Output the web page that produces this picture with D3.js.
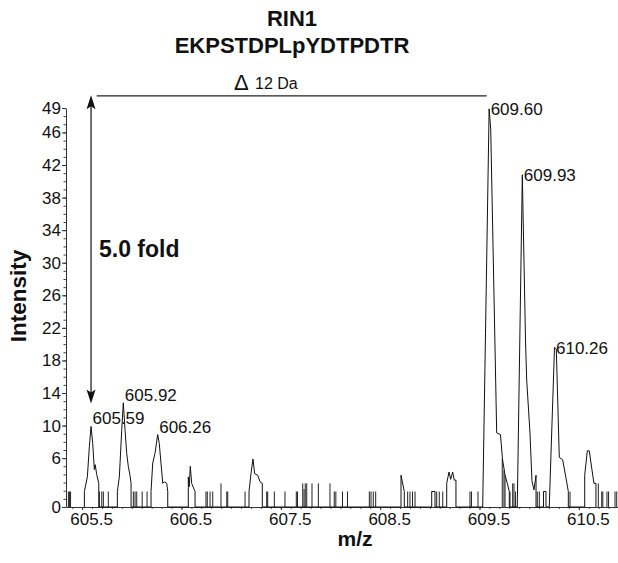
<!DOCTYPE html>
<html><head><meta charset="utf-8">
<script src="https://cdn.jsdelivr.net/npm/d3@7"></script>
<style>
body{margin:0;background:#fff}
svg{display:block}
text{font-family:"Liberation Sans",Arial,Helvetica,sans-serif;fill:#111}
</style>
</head><body>
<svg id="chart" width="618" height="563"></svg>
<script>
// ---------- data ----------
const titleLines = ["RIN1", "EKPSTDPLpYDTPDTR"];
const xLabel = "m/z";
const yLabel = "Intensity";
const xTickValues = [605.5, 606.5, 607.5, 608.5, 609.5, 610.5];
const yTickValues = [0, 6, 10, 14, 18, 22, 26, 30, 34, 38, 42, 46, 49];

// profile spectrum (m/z, intensity)
const spectrumMz = [
  605.523,605.523,605.553,605.573,605.590,605.607,605.623,605.632,605.647,605.668,605.668,
  605.855,605.855,605.875,605.899,605.915,605.932,605.949,605.965,605.982,605.993,605.993,
  606.194,606.194,606.211,606.234,606.261,606.277,606.294,606.312,606.328,606.352,606.362,606.362,
  606.569,606.569,606.579,606.589,606.603,606.637,606.637,
  607.180,607.180,607.200,607.220,607.237,607.268,607.291,607.314,607.314,
  608.710,608.710,608.743,608.743,
  609.019,609.019,609.052,609.052,
  609.170,609.170,609.193,609.210,609.230,609.246,609.263,609.263,
  609.532,609.597,609.613,609.673,609.711,609.731,609.757,609.780,609.800,609.800,
  609.880,609.931,609.963,609.975,610.008,610.028,610.048,610.069,610.069,
  610.144,610.144,610.169,610.169,
  610.202,610.255,610.273,610.303,610.337,610.370,610.394,610.394,
  610.559,610.559,610.585,610.605,610.629,610.652,610.672,610.672
];
const spectrumInt = [
  0,1.9,3.7,7.4,9.9,7.8,4.6,5.2,4.0,2.9,0,
  0,1.9,3.7,9.5,12.8,9.5,6.6,5.0,3.9,2.9,0,
  0,1.9,5.4,6.6,8.9,7.8,5.4,2.9,3.1,2.9,1.9,0,
  0,3.7,2.5,5.0,2.9,1.9,0,
  0,1.9,4.1,5.9,4.1,3.9,3.1,2.9,0,
  0,3.9,1.9,0,
  0,1.9,1.9,0,
  0,2.9,4.3,3.4,4.3,3.3,3.3,0,
  0,48.9,46.4,9.1,8.9,5.9,3.9,2.9,1.9,0,
  0,40.8,20.5,15.6,9.1,3.2,2.1,3.9,0,
  0,1.9,1.9,0,
  0,19.6,19.4,6.1,5.8,3.6,1.9,0,
  0,3.9,6.9,6.9,4.8,2.9,2.9,0
];

// centroid noise sticks (m/z, intensity)
const stickMz = [
  605.362,605.374,605.384,605.674,605.698,605.714,605.764,
  606.016,606.033,606.050,606.105,606.154,
  606.747,606.760,606.788,606.815,606.898,606.956,606.966,607.140,
  607.358,607.368,607.435,607.542,607.656,607.668,607.721,607.734,607.746,607.761,607.814,607.878,607.995,
  608.038,608.054,608.121,608.171,608.391,608.408,608.431,608.455,
  608.777,608.800,608.826,608.851,609.069,609.095,609.130,609.404,609.419,609.485,
  609.729,609.746,609.757,609.807,609.834,609.847,609.862,
  610.082,610.102,610.411,610.696,610.730,610.741,610.783,610.799,610.864,610.881
];
const stickInt = [
  1.9,1.9,1.9,1.9,1.9,1.9,1.9,
  1.9,1.9,1.9,1.9,1.9,
  1.9,1.9,1.9,1.9,2.9,1.9,1.9,1.9,
  1.9,1.9,1.9,1.9,1.9,1.9,2.9,2.2,2.9,2.9,2.9,2.9,2.9,
  1.9,1.9,1.9,1.9,1.9,1.9,1.9,1.9,
  1.9,1.9,1.9,1.9,1.9,1.9,1.9,1.9,1.9,1.9,
  5.9,4.5,3.9,1.9,2.9,2.9,1.9,
  1.9,1.9,1.9,2.9,1.9,1.9,1.9,1.9,1.9,1.9
];

// labelled peaks
const peakLabelText = ["605.59", "605.92", "606.26", "609.60", "609.93", "610.26"];
const peakLabelMz   = [605.590, 605.915, 606.261, 609.597, 609.931, 610.255];
const peakLabelInt  = [9.9, 12.8, 8.9, 48.9, 40.8, 19.6];

// fold-change annotation
const deltaText = "12 Da";
const foldText = "5.0 fold";
const foldMz = 605.59;            // arrow position
const foldTopInt = 50.5;          // level of the reference bar
const foldBottomInt = 12.7;       // level of the light peak
const deltaBarMz = [605.647, 609.572];

// ---------- drawing ----------
const svg = d3.select("#chart");

const x = d3.scaleLinear().domain([605.338, 610.894]).range([66, 618]);
const y = d3.scaleLinear().domain([0, 49]).range([507, 108]);

// title
svg.selectAll("text.title").data(titleLines).join("text")
  .attr("class", "title")
  .attr("x", 292).attr("y", (d, i) => 26 + i * 26.5)
  .attr("text-anchor", "middle")
  .attr("font-size", 22).attr("font-weight", "bold")
  .text(d => d);

// y axis: minor ticks
const yMinor = svg.append("g").attr("transform", `translate(${x.range()[0]},0)`)
  .call(d3.axisLeft(y).tickValues(d3.range(0, 50)).tickSize(2.5).tickSizeOuter(0).tickFormat(""));
yMinor.select(".domain").remove();
yMinor.selectAll("line").attr("stroke", "#444");
// y axis: major
const yAxis = svg.append("g").attr("transform", `translate(${x.range()[0]},0)`)
  .call(d3.axisLeft(y).tickValues(yTickValues).tickSize(4).tickSizeOuter(0).tickPadding(1).tickFormat(d3.format("d")));
yAxis.select(".domain").attr("stroke", "#333");
yAxis.selectAll("line").attr("stroke", "#333");
yAxis.selectAll("text").attr("font-size", 17).attr("fill", "#000")
  .attr("font-family", '"Liberation Sans",Arial,sans-serif');

// x axis: minor
const xMinor = svg.append("g").attr("transform", `translate(0,${y(0)})`)
  .call(d3.axisBottom(x).tickValues(d3.range(6054, 6109).map(v => v / 10)).tickSize(2).tickSizeOuter(0).tickFormat(""));
xMinor.select(".domain").remove();
xMinor.selectAll("line").attr("stroke", "#555");
const xAxis = svg.append("g").attr("transform", `translate(0,${y(0)})`)
  .call(d3.axisBottom(x).tickValues(xTickValues).tickSize(3).tickSizeOuter(0).tickPadding(3).tickFormat(d3.format(".1f")));
xAxis.select(".domain").attr("stroke", "#333");
xAxis.selectAll("line").attr("stroke", "#333");
xAxis.selectAll("text").attr("font-size", 17).attr("fill", "#000").attr("dx", 9)
  .attr("font-family", '"Liberation Sans",Arial,sans-serif');

// axis titles
svg.append("text").attr("x", 355).attr("y", 546)
  .attr("text-anchor", "middle").attr("font-size", 21).attr("font-weight", "bold").text(xLabel);
svg.append("text").attr("transform", "translate(26,296) rotate(-90)")
  .attr("text-anchor", "middle").attr("font-size", 22.5).attr("font-weight", "bold").text(yLabel);

// noise sticks
svg.append("g").selectAll("line").data(stickMz).join("line")
  .attr("x1", d => x(d)).attr("x2", d => x(d))
  .attr("y1", y(0)).attr("y2", (d, i) => y(stickInt[i]))
  .attr("stroke", "#222").attr("stroke-width", 1);

// profile
const pts = spectrumMz.map((m, i) => [m, spectrumInt[i]]);
svg.append("path").datum(pts)
  .attr("d", d3.line().x(d => x(d[0])).y(d => y(d[1])))
  .attr("fill", "none").attr("stroke", "#111").attr("stroke-width", 1).attr("stroke-linejoin", "miter");

// peak labels
svg.append("g").selectAll("text").data(peakLabelText).join("text")
  .attr("x", (d, i) => x(peakLabelMz[i]) + 1.5)
  .attr("y", (d, i) => peakLabelInt[i] > 15 ? y(peakLabelInt[i]) + 6.3 : y(peakLabelInt[i]) - 2)
  .attr("font-size", 17)
  .text(d => d);

// delta bar
svg.append("line")
  .attr("x1", x(deltaBarMz[0])).attr("x2", x(deltaBarMz[1]))
  .attr("y1", y(foldTopInt)).attr("y2", y(foldTopInt))
  .attr("stroke", "#222").attr("stroke-width", 1.2);
svg.append("text").attr("x", 234).attr("y", 89.5).attr("font-size", 22).text("\u0394");
svg.append("text").attr("x", 255).attr("y", 88.5).attr("font-size", 16).text(deltaText);

// fold arrow
const ax = x(foldMz), yTop = y(foldTopInt) - 0.5, yBot = y(foldBottomInt);
svg.append("line").attr("x1", ax).attr("x2", ax).attr("y1", yTop + 6).attr("y2", yBot - 6)
  .attr("stroke", "#111").attr("stroke-width", 1.2);
const head = (tipY, dir) => `M${ax},${tipY} L${ax - 4.5},${tipY + dir * 14} L${ax},${tipY + dir * 11} L${ax + 4.5},${tipY + dir * 14} Z`;
svg.append("path").attr("d", head(yTop, 1)).attr("fill", "#111");
svg.append("path").attr("d", head(yBot, -1)).attr("fill", "#111");
svg.append("text").attr("x", 99).attr("y", 256.5).attr("font-size", 23).attr("font-weight", "bold").text(foldText);
</script>
</body></html>
